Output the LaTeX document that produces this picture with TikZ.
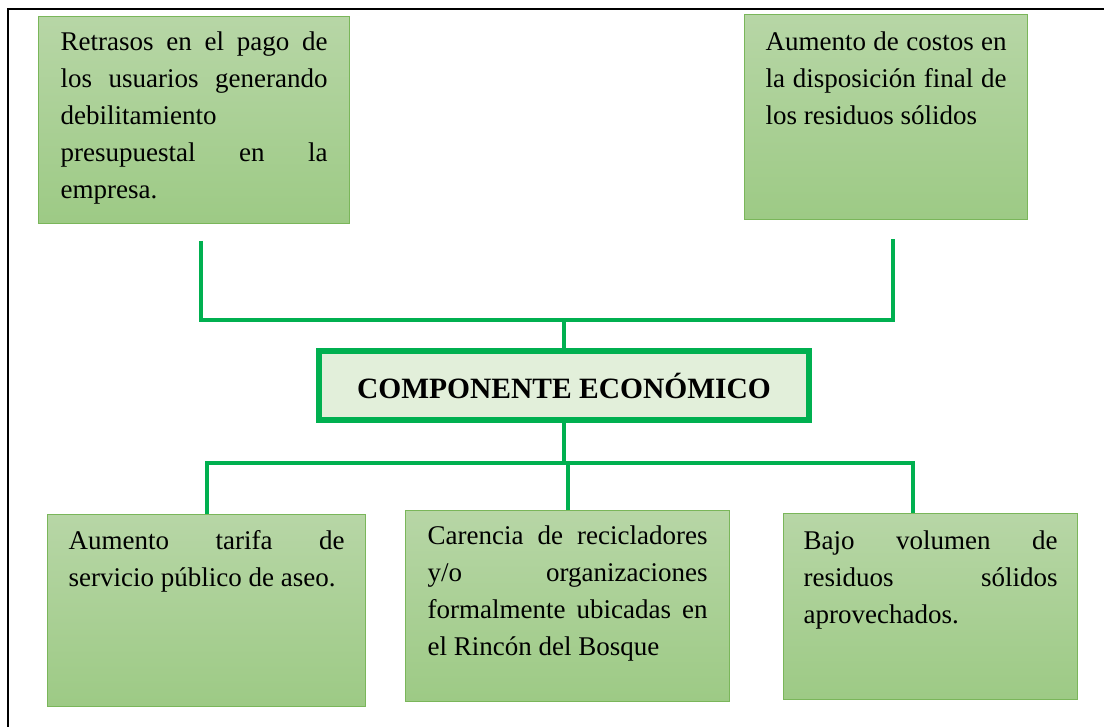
\documentclass[tikz,border=0pt]{standalone}
\usepackage{fontspec}
\setmainfont{Liberation Serif}

\definecolor{verdelinea}{RGB}{0,176,80}
\definecolor{verdeborde}{RGB}{122,182,90}
\definecolor{verdearriba}{RGB}{183,214,166}
\definecolor{verdeabajo}{RGB}{157,202,133}
\definecolor{verdeclaro}{RGB}{226,239,218}

\hyphenpenalty=10000 \exhyphenpenalty=10000
\tolerance=10000 \hbadness=10000

\tikzset{
  caja/.style={draw=verdeborde, line width=1.2pt, top color=verdearriba, bottom color=verdeabajo,
    anchor=north west, align=justify, inner ysep=0pt, font=\fontsize{27}{37}\selectfont},
  rama/.style={draw=verdelinea, line width=4pt},
}

\begin{document}
\begin{tikzpicture}[x=1pt,y=-1pt]
                        \useasboundingbox (0,0) rectangle (1104,727);
                        \draw[line width=2.6pt] (8,727) -- (8,9) -- (1104,9);
                        % causas de arriba
                        \node[caja, text width=267pt, inner xsep=22pt, text height=34pt, text depth=173pt] (retrasos) at (38,16)
                                {Retrasos en el pago de\linebreak los usuarios generando\linebreak debilitamiento\newline presupuestal en la\linebreak empresa.};
                        \node[caja, text width=241pt, inner xsep=21pt, text height=36pt, text depth=169pt] (costos) at (744,14)
                                {Aumento de costos en\linebreak la disposición final de\linebreak los residuos sólidos};
                        % centro
                        \node[draw=verdelinea, line width=6pt, fill=verdeclaro, minimum width=490pt, minimum height=69pt, inner sep=0pt,
                                font=\bfseries\fontsize{29.5}{35}\selectfont] (comp) at (564,386) {COMPONENTE ECONÓMICO};
                        % efectos de abajo
                        \node[caja, text width=276pt, inner xsep=21pt, text height=35pt, text depth=157pt] (aumento) at (47,514)
                                {Aumento tarifa de\linebreak servicio público de aseo.};
                        \node[caja, text width=280pt, inner xsep=22pt, text height=34pt, text depth=157pt] (carencia) at (405,510)
                                {Carencia de recicladores\linebreak y/o organizaciones\linebreak formalmente ubicadas en\linebreak el Rincón del Bosque};
                        \node[caja, text width=254pt, inner xsep=20pt, text height=36pt, text depth=150pt] (bajo) at (783,513)
                                {Bajo volumen de\linebreak residuos sólidos\linebreak aprovechados.};
                        \coordinate (izq) at (201,241);
                        \coordinate (der) at (893,239);
                        \coordinate (arriba) at (565,320);
                        \coordinate (abajo) at (913,463);
			\draw[rama] (izq) |- (arriba) -| (der);
			\draw[rama] (comp.north) -- (comp.north |- arriba);
			\draw[rama] (comp.south) -- (comp.south |- abajo);
			\draw[rama] (aumento.north) |- (abajo) -- (abajo |- bajo.north);
			\draw[rama] (carencia.north) -- (carencia.north |- abajo);
\end{tikzpicture}
\end{document}
